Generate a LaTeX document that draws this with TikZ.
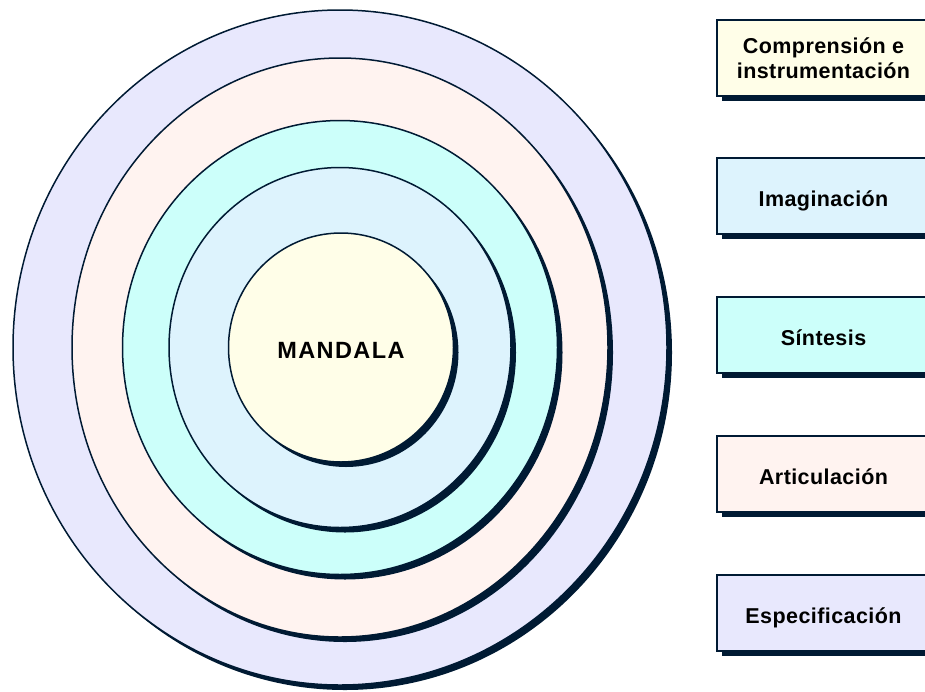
\documentclass[tikz,border=0pt]{standalone}
\usepackage{fontspec}
\setmainfont{Liberation Sans}
\newfontfamily\tagfont[LetterSpace=2]{Liberation Sans}
\newfontfamily\hubfont[LetterSpace=6]{Liberation Sans}
\usetikzlibrary{shapes.geometric,shadows}
\definecolor{edge}{HTML}{001A33}
\definecolor{lav}{HTML}{E8E8FD}
\definecolor{peach}{HTML}{FFF3F0}
\definecolor{aqua}{HTML}{CCFFFA}
\definecolor{lblue}{HTML}{DDF3FD}
\definecolor{cream}{HTML}{FFFEE8}
\tikzset{
  sh/.style={drop shadow={shadow xshift=5pt,shadow yshift=-5pt,fill=edge,opacity=1}},
  ring/.style={ellipse,draw=edge,line width=1.5pt,inner sep=0pt,sh},
  tag/.style={rectangle,draw=edge,line width=1.2pt,minimum width=213pt,minimum height=76pt,
    inner sep=0pt,align=center,sh,font=\tagfont\bfseries\fontsize{21.5}{25}\selectfont},
  oneline/.style={text height=20.5pt,text depth=0pt},
}
\begin{document}
\begin{tikzpicture}[x=1pt,y=-1pt]
\useasboundingbox (0,0) rectangle (925,691);
\clip (0,0) rectangle (925,691);
\node[ring,fill=lav,minimum width=654pt,minimum height=675pt] (r5) at (340,347.5) {};
\node[ring,fill=peach,minimum width=536pt,minimum height=579pt] (r4) at (340,347.5) {};
\node[ring,fill=aqua,minimum width=435pt,minimum height=454pt] (r3) at (340,347.5) {};
\node[ring,fill=lblue,minimum width=342pt,minimum height=360pt] (r2) at (340,347.5) {};
\node[ring,fill=cream,minimum width=225pt,minimum height=229pt,text height=21.2pt,text depth=0pt,
  font=\hubfont\bfseries\fontsize{23.5}{26}\selectfont] (r1) at (341,347.5) {MANDALA};
\node[tag,fill=cream] (b1) at (823.5,58) {Comprensión e\\instrumentación};
\node[tag,oneline,fill=lblue] (b2) at (823.5,196) {Imaginación};
\node[tag,oneline,fill=aqua] (b3) at (823.5,335) {Síntesis};
\node[tag,oneline,fill=peach] (b4) at (823.5,474) {Articulación};
\node[tag,oneline,fill=lav] (b5) at (823.5,613) {Especificación};
\end{tikzpicture}
\end{document}
